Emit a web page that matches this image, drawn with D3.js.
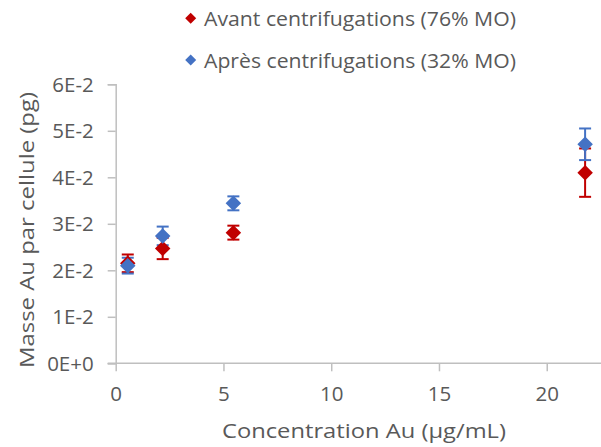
<!DOCTYPE html>
<html>
<head>
<meta charset="utf-8">
<script src="https://cdn.jsdelivr.net/npm/d3@7"></script>
<style>
  html, body { margin: 0; padding: 0; background: #fff; }
  svg { display: block; }
  text { font-family: "Open Sans", "Noto Sans", sans-serif; fill: #595959; }
</style>
</head>
<body>
<svg id="chart" width="601" height="447"></svg>
<script>
// ---- data ----
const concentrations = [0.56, 2.18, 5.46, 21.78];
const avantValues = [0.0215, 0.0247, 0.0281, 0.0410];
const avantErrors = [0.0019, 0.0023, 0.0015, 0.0052];
const apresValues = [0.0210, 0.0274, 0.0344, 0.0471];
const apresErrors = [0.0017, 0.0020, 0.0015, 0.0034];
const seriesNames = ["Avant centrifugations (76% MO)", "Après centrifugations (32% MO)"];
const seriesColors = ["#C00000", "#4472C4"];
const xTicks = [0, 5, 10, 15, 20];
const yTicks = [0, 0.01, 0.02, 0.03, 0.04, 0.05, 0.06];
const yTickLabels = ["0E+0", "1E-2", "2E-2", "3E-2", "4E-2", "5E-2", "6E-2"];
const xTitle = "Concentration Au (µg/mL)";
const yTitle = "Masse Au par cellule (pg)";

const series = [
  { name: seriesNames[0], color: seriesColors[0],
    points: concentrations.map((c, i) => ({ x: c, y: avantValues[i], e: avantErrors[i] })) },
  { name: seriesNames[1], color: seriesColors[1],
    points: concentrations.map((c, i) => ({ x: c, y: apresValues[i], e: apresErrors[i] })) }
];

const svg = d3.select("#chart");
const x = d3.scaleLinear().domain([0, 25]).range([115.7, 654.5]);
const y = d3.scaleLinear().domain([0, 0.06]).range([363.3, 84.3]);
const axisColor = "#BFBFBF";

// Y axis
const yAxis = svg.append("g").attr("transform", `translate(${x(0)},0)`)
  .call(d3.axisLeft(y).tickValues(yTicks).tickSize(8).tickPadding(14)
    .tickFormat((d, i) => yTickLabels[i]));
yAxis.select(".domain").attr("stroke", axisColor).attr("stroke-width", 1.5);
yAxis.selectAll(".tick line").attr("stroke", axisColor).attr("stroke-width", 1.5);
yAxis.selectAll(".tick text").attr("font-size", 20.5).attr("fill", "#595959")
  .attr("font-family", "Open Sans").attr("dy", "0.35em");

// X axis
const xAxis = svg.append("g").attr("transform", `translate(0,${y(0)})`)
  .call(d3.axisBottom(x).tickValues(xTicks).tickSize(8).tickPadding(15).tickFormat(d3.format("d")));
xAxis.select(".domain").attr("stroke", axisColor).attr("stroke-width", 1.5)
  .attr("d", `M${x(0) - 8},0H${x(25)}`);
xAxis.selectAll(".tick text").attr("font-size", 20.5).attr("fill", "#595959")
  .attr("font-family", "Open Sans").attr("dy", "0.72em");
xAxis.selectAll(".tick line").attr("stroke", axisColor).attr("stroke-width", 1.5);

// Axis titles
svg.append("text").attr("x", 364).attr("y", 438).attr("text-anchor", "middle")
  .attr("font-size", 20).attr("textLength", 284).attr("lengthAdjust", "spacingAndGlyphs")
  .text(xTitle);
svg.append("text").attr("transform", "translate(34,230) rotate(-90)")
  .attr("text-anchor", "middle").attr("font-size", 20)
  .attr("textLength", 276).attr("lengthAdjust", "spacingAndGlyphs")
  .text(yTitle);

// Error bars
const capHalf = 6;
series.forEach(s => {
  const g = svg.append("g").attr("stroke", s.color).attr("stroke-width", 2);
  s.points.forEach(p => {
    const cx = x(p.x), y1 = y(p.y + p.e), y0 = y(p.y - p.e);
    g.append("line").attr("x1", cx).attr("x2", cx).attr("y1", y1).attr("y2", y0);
    g.append("line").attr("x1", cx - capHalf).attr("x2", cx + capHalf).attr("y1", y1).attr("y2", y1);
    g.append("line").attr("x1", cx - capHalf).attr("x2", cx + capHalf).attr("y1", y0).attr("y2", y0);
  });
});

// Markers
function diamondPath(w) {
  const h = w / 2;
  return `M0,${-h}L${h},0L0,${h}L${-h},0Z`;
}
series.forEach(s => {
  svg.append("g").selectAll("path").data(s.points).join("path")
    .attr("d", diamondPath(15.5))
    .attr("transform", d => `translate(${x(d.x)},${y(d.y)})`)
    .attr("fill", s.color);
});

// Legend
const legendRows = [18.3, 60];
series.forEach((s, i) => {
  svg.append("path").attr("d", diamondPath(11))
    .attr("transform", `translate(190.7,${legendRows[i]})`).attr("fill", s.color);
  svg.append("text").attr("x", 204).attr("y", legendRows[i] + 7.5)
    .attr("font-size", 19.5).attr("textLength", 312).attr("lengthAdjust", "spacingAndGlyphs")
    .text(s.name);
});
</script>
</body>
</html>
